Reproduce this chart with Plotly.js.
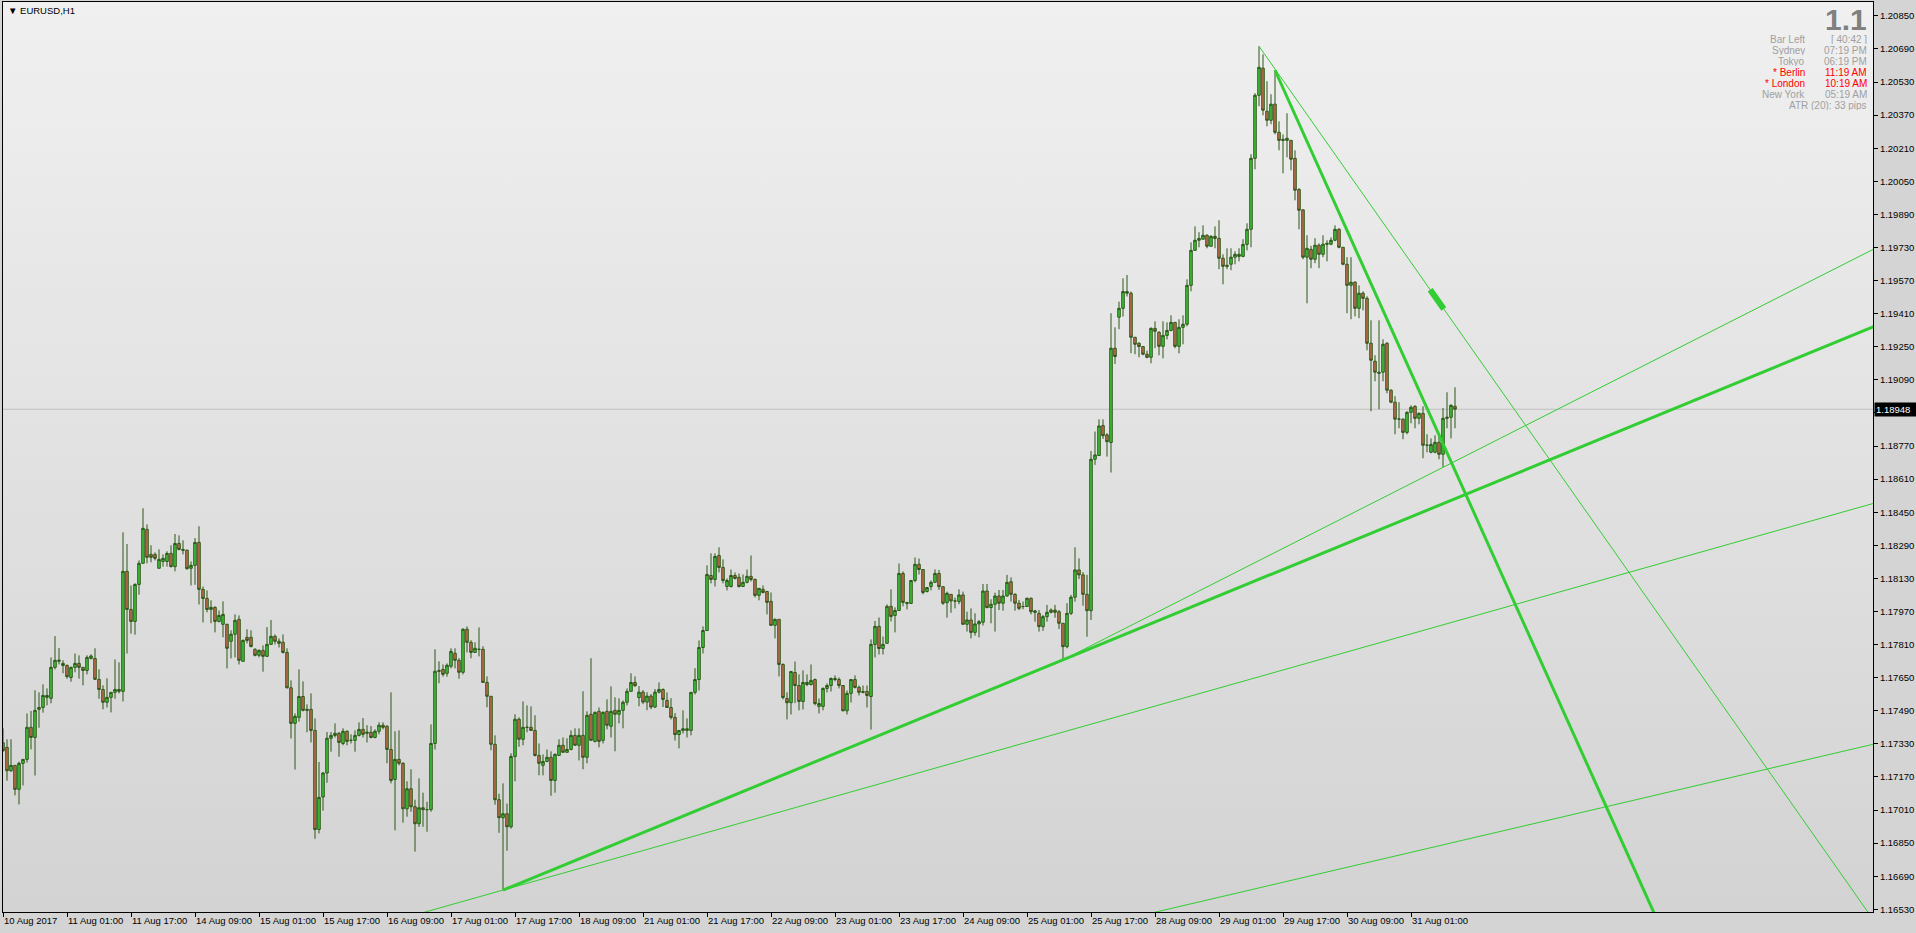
<!DOCTYPE html>
<html>
<head>
<meta charset="utf-8">
<script src="https://cdn.plot.ly/plotly-3.0.1.min.js"></script>
<style>
  html, body { margin:0; padding:0; background:#D4D4D4; }
  #chart { width:1916px; height:933px;
    background: linear-gradient(to bottom, #F0F0F0, #D3D3D3) 3px 2px / 1870px 910px no-repeat, #D4D4D4; }
</style>
</head>
<body>
<div id="chart"></div>
<script>
// ---------- DATA ----------
const symbolText = "EURUSD,H1";
const timeLabels = ["10 Aug 2017","11 Aug 01:00","11 Aug 17:00","14 Aug 09:00","15 Aug 01:00","15 Aug 17:00","16 Aug 09:00","17 Aug 01:00","17 Aug 17:00","18 Aug 09:00","21 Aug 01:00","21 Aug 17:00","22 Aug 09:00","23 Aug 01:00","23 Aug 17:00","24 Aug 09:00","25 Aug 01:00","25 Aug 17:00","28 Aug 09:00","29 Aug 01:00","29 Aug 17:00","30 Aug 09:00","31 Aug 01:00"];
const barsPerLabel = 16;
const priceTicks = [1.16530,1.16690,1.16850,1.17010,1.17170,1.17330,1.17490,1.17650,1.17810,1.17970,1.18130,1.18290,1.18450,1.18610,1.18770,1.18930,1.19090,1.19250,1.19410,1.19570,1.19730,1.19890,1.20050,1.20210,1.20370,1.20530,1.20690,1.20850];
const bidPrice = 1.18948;

const open = [
1.17335,1.17313,1.17200,1.17226,1.17110,1.17236,1.17255,1.17410,1.17361,1.17497,
1.17506,1.17564,1.17550,1.17700,1.17729,1.17719,1.17709,1.17651,1.17700,1.17719,
1.17700,1.17685,1.17743,1.17743,1.17642,1.17593,1.17531,1.17555,1.17579,1.17593,
1.17584,1.18164,1.17980,1.17922,1.18101,1.18203,1.18367,1.18246,1.18246,1.18179,
1.18212,1.18212,1.18251,1.18187,1.18299,1.18270,1.18266,1.18179,1.18193,1.18304,
1.18077,1.18033,1.17980,1.17990,1.17922,1.17908,1.17908,1.17826,1.17860,1.17932,
1.17729,1.17845,1.17845,1.17787,1.17758,1.17782,1.17753,1.17811,1.17850,1.17826,
1.17821,1.17772,1.17601,1.17429,1.17458,1.17559,1.17497,1.17497,1.17395,1.16916,
1.17073,1.17189,1.17357,1.17371,1.17381,1.17332,1.17391,1.17347,1.17347,1.17371,
1.17400,1.17381,1.17386,1.17361,1.17391,1.17420,1.17415,1.17303,1.17158,1.17255,
1.17236,1.17016,1.17113,1.17026,1.16944,1.17021,1.17012,1.17012,1.17332,1.17685,
1.17690,1.17671,1.17705,1.17768,1.17734,1.17676,1.17884,1.17821,1.17772,1.17787,
1.17787,1.17627,1.17560,1.17328,1.17060,1.16973,1.16992,1.16929,1.17269,1.17449,
1.17352,1.17410,1.17410,1.17395,1.17274,1.17226,1.17245,1.17265,1.17153,1.17274,
1.17323,1.17289,1.17303,1.17371,1.17323,1.17371,1.17265,1.17473,1.17342,1.17487,
1.17347,1.17487,1.17415,1.17492,1.17473,1.17492,1.17531,1.17584,1.17627,1.17554,
1.17580,1.17532,1.17561,1.17508,1.17580,1.17593,1.17540,1.17506,1.17458,1.17375,
1.17395,1.17403,1.17395,1.17579,1.17641,1.17796,1.17878,1.18144,1.18125,1.18241,
1.18183,1.18091,1.18091,1.18144,1.18135,1.18091,1.18111,1.18140,1.18125,1.18048,
1.18077,1.18067,1.18019,1.17903,1.17932,1.17714,1.17549,1.17529,1.17675,1.17612,
1.17535,1.17617,1.17617,1.17641,1.17511,1.17511,1.17598,1.17612,1.17646,1.17641,
1.17612,1.17490,1.17574,1.17641,1.17603,1.17579,1.17583,1.17559,1.17811,1.17898,
1.17791,1.17816,1.17995,1.17951,1.17975,1.18154,1.18014,1.18009,1.18120,1.18198,
1.18173,1.18067,1.18091,1.18111,1.18154,1.18090,1.18013,1.18053,1.18021,1.18018,
1.18050,1.17908,1.17929,1.17869,1.17910,1.17918,1.18069,1.17989,1.18005,1.18045,
1.18010,1.18045,1.18114,1.18053,1.18010,1.17994,1.17994,1.18034,1.17973,1.17961,
1.17897,1.17945,1.17966,1.17977,1.17969,1.17913,1.17800,1.17961,1.18039,1.18171,
1.18147,1.18053,1.17974,1.18706,1.18724,1.18869,1.18824,1.18787,1.19243,1.19393,
1.19436,1.19517,1.19509,1.19296,1.19267,1.19251,1.19214,1.19199,1.19339,1.19320,
1.19252,1.19305,1.19329,1.19368,1.19252,1.19344,1.19359,1.19547,1.19716,1.19765,
1.19770,1.19789,1.19736,1.19784,1.19774,1.19678,1.19644,1.19649,1.19683,1.19687,
1.19687,1.19745,1.19818,1.20161,1.20466,1.20597,1.20389,1.20345,1.20423,1.20287,
1.20253,1.20248,1.20248,1.20161,1.20011,1.19912,1.19683,1.19721,1.19673,1.19741,
1.19697,1.19750,1.19746,1.19765,1.19818,1.19731,1.19649,1.19547,1.19562,1.19436,
1.19509,1.19484,1.19267,1.19180,1.19127,1.19127,1.19267,1.19040,1.18982,1.18900,
1.18900,1.18836,1.18933,1.18962,1.18904,1.18928,1.18774,1.18740,1.18740,1.18788,
1.18730,1.18904,1.18909,1.18962];

const high = [
1.17405,1.17352,1.17352,1.17226,1.17244,1.17255,1.17477,1.17489,1.17589,1.17579,
1.17618,1.17598,1.17748,1.17851,1.17793,1.17734,1.17714,1.17703,1.17767,1.17758,
1.17700,1.17758,1.17763,1.17792,1.17690,1.17613,1.17647,1.17579,1.17738,1.17724,
1.18353,1.18296,1.18096,1.18106,1.18217,1.18469,1.18391,1.18290,1.18256,1.18270,
1.18246,1.18261,1.18290,1.18345,1.18338,1.18314,1.18270,1.18212,1.18325,1.18382,
1.18091,1.18072,1.18024,1.17995,1.17975,1.18019,1.17911,1.17879,1.17956,1.17951,
1.17835,1.17884,1.17879,1.17792,1.17787,1.17806,1.17895,1.17929,1.17859,1.17840,
1.17859,1.17792,1.17637,1.17477,1.17690,1.17632,1.17521,1.17574,1.17453,1.17242,
1.17194,1.17387,1.17387,1.17429,1.17387,1.17405,1.17395,1.17376,1.17395,1.17434,
1.17455,1.17420,1.17416,1.17400,1.17434,1.17434,1.17420,1.17579,1.17391,1.17395,
1.17241,1.17149,1.17207,1.17060,1.17163,1.17094,1.17050,1.17424,1.17787,1.17729,
1.17714,1.17719,1.17792,1.17792,1.17744,1.17889,1.17898,1.17831,1.17821,1.17893,
1.17802,1.17656,1.17560,1.17371,1.17089,1.17139,1.17041,1.17284,1.17473,1.17458,
1.17535,1.17516,1.17511,1.17468,1.17332,1.17279,1.17303,1.17294,1.17284,1.17352,
1.17361,1.17357,1.17395,1.17405,1.17405,1.17584,1.17487,1.17744,1.17487,1.17506,
1.17487,1.17545,1.17608,1.17555,1.17550,1.17540,1.17598,1.17671,1.17656,1.17609,
1.17590,1.17580,1.17571,1.17595,1.17627,1.17598,1.17579,1.17551,1.17479,1.17395,
1.17492,1.17453,1.17579,1.17696,1.17830,1.17898,1.18193,1.18251,1.18251,1.18280,
1.18222,1.18130,1.18173,1.18159,1.18154,1.18149,1.18173,1.18241,1.18130,1.18082,
1.18096,1.18067,1.18062,1.17936,1.17932,1.17719,1.17579,1.17680,1.17728,1.17666,
1.17685,1.17666,1.17714,1.17646,1.17549,1.17603,1.17622,1.17651,1.17661,1.17651,
1.17612,1.17588,1.17641,1.17661,1.17612,1.17612,1.17612,1.17835,1.17924,1.17941,
1.17849,1.18004,1.18077,1.17990,1.18202,1.18164,1.18014,1.18120,1.18231,1.18226,
1.18173,1.18086,1.18120,1.18173,1.18171,1.18090,1.18066,1.18053,1.18037,1.18077,
1.18066,1.17969,1.17985,1.17961,1.17929,1.18103,1.18103,1.18029,1.18061,1.18074,
1.18074,1.18147,1.18135,1.18058,1.18026,1.18018,1.18037,1.18037,1.17977,1.17977,
1.17953,1.18002,1.17985,1.18002,1.17977,1.17913,1.18010,1.18050,1.18280,1.18227,
1.18160,1.18147,1.18746,1.18840,1.18899,1.18899,1.18832,1.19412,1.19344,1.19468,
1.19581,1.19597,1.19517,1.19296,1.19272,1.19251,1.19231,1.19344,1.19373,1.19325,
1.19373,1.19368,1.19402,1.19368,1.19383,1.19402,1.19576,1.19755,1.19832,1.19804,
1.19837,1.19794,1.19789,1.19832,1.19862,1.19697,1.19726,1.19726,1.19712,1.19726,
1.19770,1.19847,1.20181,1.20476,1.20703,1.20664,1.20534,1.20471,1.20587,1.20340,
1.20277,1.20379,1.20248,1.20200,1.20016,1.19915,1.19789,1.19738,1.19775,1.19750,
1.19789,1.19765,1.19779,1.19837,1.19823,1.19731,1.19683,1.19683,1.19567,1.19547,
1.19518,1.19494,1.19378,1.19209,1.19378,1.19286,1.19272,1.19044,1.19011,1.18982,
1.18904,1.18938,1.18967,1.18967,1.18933,1.18962,1.18827,1.18807,1.18822,1.18832,
1.18954,1.19030,1.18972,1.19054];

const low = [
1.17292,1.17152,1.17195,1.17081,1.17037,1.17129,1.17239,1.17303,1.17177,1.17408,
1.17481,1.17516,1.17526,1.17690,1.17714,1.17671,1.17645,1.17630,1.17676,1.17645,
1.17613,1.17666,1.17738,1.17639,1.17548,1.17497,1.17506,1.17482,1.17548,1.17574,
1.17535,1.17767,1.17863,1.17858,1.18051,1.18203,1.18203,1.18208,1.18217,1.18179,
1.18187,1.18187,1.18183,1.18164,1.18266,1.18246,1.18172,1.18096,1.18099,1.18004,
1.17917,1.17966,1.17913,1.17869,1.17917,1.17845,1.17695,1.17743,1.17748,1.17714,
1.17729,1.17816,1.17796,1.17753,1.17748,1.17679,1.17751,1.17811,1.17811,1.17796,
1.17767,1.17598,1.17356,1.17206,1.17437,1.17487,1.17386,1.17337,1.16871,1.16897,
1.17007,1.17142,1.17292,1.17361,1.17268,1.17323,1.17323,1.17332,1.17292,1.17366,
1.17361,1.17337,1.17357,1.17357,1.17376,1.17400,1.17236,1.17139,1.16912,1.17226,
1.16949,1.16978,1.17002,1.16809,1.16929,1.16929,1.16905,1.17002,1.17303,1.17623,
1.17655,1.17655,1.17695,1.17695,1.17645,1.17666,1.17772,1.17744,1.17772,1.17753,
1.17627,1.17507,1.17299,1.17036,1.16900,1.16623,1.16813,1.16920,1.17149,1.17316,
1.17323,1.17386,1.17395,1.17269,1.17178,1.17178,1.17241,1.17079,1.17094,1.17274,
1.17289,1.17289,1.17299,1.17323,1.17250,1.17207,1.17236,1.17347,1.17337,1.17313,
1.17332,1.17400,1.17361,1.17294,1.17429,1.17405,1.17516,1.17584,1.17606,1.17512,
1.17522,1.17493,1.17498,1.17503,1.17574,1.17508,1.17506,1.17448,1.17346,1.17308,
1.17380,1.17361,1.17371,1.17569,1.17588,1.17767,1.17878,1.18106,1.18091,1.18159,
1.18106,1.18072,1.18086,1.18125,1.18086,1.18091,1.18106,1.18115,1.18038,1.18024,
1.18057,1.17956,1.17903,1.17840,1.17656,1.17545,1.17448,1.17472,1.17527,1.17492,
1.17496,1.17609,1.17612,1.17516,1.17477,1.17492,1.17579,1.17583,1.17632,1.17598,
1.17487,1.17472,1.17530,1.17598,1.17564,1.17574,1.17506,1.17399,1.17748,1.17762,
1.17762,1.17816,1.17922,1.17869,1.17975,1.17995,1.17980,1.18009,1.18111,1.18149,
1.18053,1.18062,1.18072,1.18111,1.18074,1.18002,1.17940,1.17964,1.17985,1.18005,
1.17905,1.17873,1.17840,1.17853,1.17845,1.17902,1.17985,1.17913,1.17873,1.17977,
1.17974,1.18042,1.18018,1.17974,1.17977,1.17981,1.17994,1.17956,1.17921,1.17873,
1.17877,1.17921,1.17961,1.17940,1.17885,1.17736,1.17792,1.17953,1.18018,1.18127,
1.17998,1.17848,1.17929,1.18679,1.18724,1.18804,1.18719,1.18642,1.19167,1.19335,
1.19396,1.19493,1.19219,1.19214,1.19199,1.19209,1.19194,1.19170,1.19243,1.19209,
1.19194,1.19286,1.19325,1.19243,1.19218,1.19262,1.19349,1.19518,1.19716,1.19731,
1.19770,1.19726,1.19736,1.19726,1.19625,1.19552,1.19625,1.19620,1.19649,1.19663,
1.19683,1.19716,1.19731,1.20108,1.20413,1.20369,1.20316,1.20326,1.20277,1.20200,
1.20089,1.20166,1.20103,1.19958,1.19818,1.19673,1.19460,1.19630,1.19654,1.19630,
1.19683,1.19663,1.19741,1.19760,1.19726,1.19644,1.19412,1.19383,1.19397,1.19388,
1.19426,1.19233,1.18938,1.19083,1.18948,1.19083,1.19025,1.18977,1.18827,1.18856,
1.18803,1.18827,1.18880,1.18856,1.18875,1.18711,1.18740,1.18735,1.18735,1.18706,
1.18667,1.18856,1.18807,1.18856];

const close = [
1.17297,1.17200,1.17226,1.17110,1.17236,1.17255,1.17410,1.17361,1.17492,1.17506,
1.17564,1.17555,1.17700,1.17734,1.17734,1.17709,1.17655,1.17700,1.17719,1.17700,
1.17685,1.17748,1.17755,1.17642,1.17593,1.17531,1.17555,1.17579,1.17593,1.17584,
1.18164,1.17980,1.17922,1.18101,1.18203,1.18372,1.18232,1.18232,1.18227,1.18222,
1.18227,1.18251,1.18187,1.18299,1.18270,1.18266,1.18177,1.18193,1.18304,1.18077,
1.18033,1.17980,1.17990,1.17922,1.17951,1.17956,1.17792,1.17860,1.17927,1.17734,
1.17830,1.17830,1.17801,1.17758,1.17782,1.17753,1.17811,1.17850,1.17826,1.17816,
1.17772,1.17601,1.17429,1.17463,1.17559,1.17492,1.17492,1.17395,1.16916,1.17071,
1.17189,1.17357,1.17371,1.17381,1.17337,1.17391,1.17342,1.17347,1.17371,1.17400,
1.17376,1.17386,1.17361,1.17391,1.17420,1.17410,1.17303,1.17153,1.17255,1.17236,
1.17016,1.17113,1.17026,1.16944,1.17021,1.17012,1.17012,1.17332,1.17681,1.17681,
1.17666,1.17710,1.17777,1.17734,1.17676,1.17884,1.17821,1.17772,1.17792,1.17787,
1.17627,1.17560,1.17328,1.17060,1.16973,1.16992,1.16929,1.17269,1.17449,1.17352,
1.17410,1.17410,1.17395,1.17274,1.17236,1.17245,1.17265,1.17153,1.17279,1.17323,
1.17289,1.17303,1.17371,1.17323,1.17371,1.17265,1.17468,1.17347,1.17482,1.17342,
1.17482,1.17420,1.17487,1.17473,1.17492,1.17531,1.17584,1.17627,1.17611,1.17580,
1.17532,1.17561,1.17508,1.17580,1.17593,1.17545,1.17506,1.17458,1.17375,1.17395,
1.17403,1.17395,1.17579,1.17641,1.17796,1.17878,1.18149,1.18125,1.18236,1.18183,
1.18120,1.18120,1.18144,1.18130,1.18091,1.18111,1.18140,1.18125,1.18048,1.18082,
1.18062,1.18014,1.17903,1.17932,1.17714,1.17554,1.17529,1.17680,1.17612,1.17535,
1.17627,1.17627,1.17637,1.17525,1.17525,1.17598,1.17612,1.17646,1.17641,1.17612,
1.17490,1.17574,1.17641,1.17603,1.17579,1.17583,1.17564,1.17811,1.17898,1.17791,
1.17811,1.17995,1.17946,1.17975,1.18154,1.18014,1.18009,1.18120,1.18198,1.18173,
1.18062,1.18086,1.18111,1.18154,1.18090,1.18010,1.18058,1.18021,1.18021,1.18050,
1.17908,1.17929,1.17869,1.17910,1.17921,1.18069,1.17989,1.18005,1.18045,1.18010,
1.18045,1.18111,1.18053,1.18010,1.17985,1.17994,1.18034,1.17969,1.17966,1.17897,
1.17945,1.17966,1.17977,1.17966,1.17913,1.17800,1.17961,1.18039,1.18171,1.18147,
1.18053,1.17974,1.18706,1.18727,1.18867,1.18820,1.18791,1.19243,1.19203,1.19436,
1.19517,1.19509,1.19296,1.19262,1.19251,1.19214,1.19199,1.19339,1.19325,1.19252,
1.19305,1.19329,1.19368,1.19252,1.19344,1.19359,1.19547,1.19716,1.19765,1.19774,
1.19789,1.19736,1.19784,1.19774,1.19678,1.19639,1.19639,1.19683,1.19697,1.19697,
1.19745,1.19818,1.20161,1.20466,1.20601,1.20394,1.20345,1.20423,1.20287,1.20248,
1.20248,1.20258,1.20157,1.20007,1.19910,1.19683,1.19726,1.19673,1.19741,1.19697,
1.19746,1.19746,1.19765,1.19818,1.19731,1.19649,1.19547,1.19562,1.19436,1.19509,
1.19484,1.19267,1.19185,1.19127,1.19122,1.19262,1.19040,1.18982,1.18900,1.18900,
1.18836,1.18933,1.18957,1.18904,1.18928,1.18774,1.18774,1.18778,1.18788,1.18730,
1.18904,1.18909,1.18967,1.18948];

// trend lines: anchor points (bar index, price)
const tlDownThickX = [318, 358],   tlDownThickY = [1.20587, 1.18867];   // ray to the right
const tlDownThinX  = [314, 360],   tlDownThinY  = [1.20703, 1.19438];   // ray to the right
const tlDownMarkX  = [356.8, 360.2];                                      // short thick mark on thin down line
const tlUpThickX   = [125, 265],   tlUpThickY   = [1.16623, 1.17736];   // ray to the right
const tlUpThinX    = [125, 265],   tlUpThinY    = [1.16623, 1.17387];   // line, both ways
const tlUpThin2X   = [265, 360],   tlUpThin2Y   = [1.17736, 1.18667];   // ray to the right
const tlLowThinX   = [290, 460],   tlLowThinY   = [1.16525, 1.17294];   // line, both ways

const infoLabels = ["Bar Left","Sydney","Tokyo","* Berlin","* London","New York"];
const infoValues = ["[ 40:42 ]","07:19 PM","06:19 PM","11:19 AM","10:19 AM","05:19 AM"];
const infoHighlight = [false,false,false,true,true,false];
const atrText = "ATR (20): 33 pips";
const bigText = "1.1";

// ---------- BUILD ----------
const idx = open.map((_, i) => i);
const XMAX = 467.5;
const GREEN = '#32CD32';

function lineThrough(xs, ys, xFrom, xTo) {
  const s = (ys[1] - ys[0]) / (xs[1] - xs[0]);
  return { x: [xFrom, xTo], y: [ys[0] + s * (xFrom - xs[0]), ys[0] + s * (xTo - xs[0])] };
}
function lineTrace(seg, width) {
  return { type: 'scatter', mode: 'lines', x: seg.x, y: seg.y,
           line: { color: GREEN, width: width }, hoverinfo: 'skip', showlegend: false, cliponaxis: true };
}

const traces = [
  { type: 'candlestick', x: idx, open: open, high: high, low: low, close: close,
    increasing: { line: { color: '#2B5716', width: 1 }, fillcolor: '#3BC83B' },
    decreasing: { line: { color: '#2B5716', width: 1 }, fillcolor: '#CD6A4F' },
    whiskerwidth: 0, hoverinfo: 'skip', showlegend: false },
  lineTrace(lineThrough(tlLowThinX, tlLowThinY, -20, XMAX + 20), 1),
  lineTrace(lineThrough(tlUpThinX, tlUpThinY, -20, XMAX + 20), 1),
  lineTrace(lineThrough(tlUpThin2X, tlUpThin2Y, tlUpThin2X[0], XMAX + 20), 1),
  lineTrace(lineThrough(tlDownThinX, tlDownThinY, tlDownThinX[0], XMAX + 20), 1),
  lineTrace(lineThrough(tlUpThickX, tlUpThickY, tlUpThickX[0], XMAX + 20), 3),
  lineTrace(lineThrough(tlDownThickX, tlDownThickY, tlDownThickX[0], XMAX + 20), 3),
  lineTrace(lineThrough(tlDownThinX, tlDownThinY, tlDownMarkX[0], tlDownMarkX[1]), 6)
];

// pixel -> paper helpers for the text overlays
const PL = 3, PT = 2, PW = 1870, PH = 910;
const px = x => (x - PL) / PW;
const py = y => (PT + PH - y) / PH;
const FONT = 'Liberation Sans, Arial, sans-serif';

const annotations = [];
annotations.push({ xref: 'paper', yref: 'paper', x: px(6), y: py(11), xanchor: 'left', yanchor: 'middle',
  text: '▼ ' + symbolText, showarrow: false, font: { family: FONT, size: 9.5, color: '#000' } });
annotations.push({ xref: 'paper', yref: 'paper', x: px(1868), y: py(19), xanchor: 'right', yanchor: 'middle',
  height: 22, valign: 'middle', borderpad: 0,
  text: '<b>' + bigText + '</b>', showarrow: false, font: { family: FONT, size: 30, color: '#808080' } });
infoLabels.forEach((lab, k) => {
  const col = infoHighlight[k] ? '#FF0000' : '#A0A0A0';
  const yy = 39 + k * 11;
  annotations.push({ xref: 'paper', yref: 'paper', x: px(1806), y: py(yy), xanchor: 'right', yanchor: 'middle',
    height: 10, borderpad: 0, text: lab, showarrow: false, font: { family: FONT, size: 10, color: col } });
  annotations.push({ xref: 'paper', yref: 'paper', x: px(1868), y: py(yy), xanchor: 'right', yanchor: 'middle',
    height: 10, borderpad: 0, text: infoValues[k], showarrow: false, font: { family: FONT, size: 10, color: col } });
});
annotations.push({ xref: 'paper', yref: 'paper', x: px(1868), y: py(105), xanchor: 'right', yanchor: 'middle',
  height: 10, borderpad: 0, text: atrText, showarrow: false, font: { family: FONT, size: 10, color: '#A0A0A0' } });
annotations.push({ xref: 'paper', yref: 'y', x: px(1874), y: bidPrice, xanchor: 'left', yanchor: 'middle',
  text: bidPrice.toFixed(5), showarrow: false, bgcolor: '#000000', borderpad: 1, width: 40, align: 'left',
  font: { family: FONT, size: 9.5, color: '#FFFFFF' } });

// price tick hidden behind the bid label keeps its tick mark only
const priceTickText = priceTicks.map(v => Math.abs(v - bidPrice) < 0.0004 ? '' : v.toFixed(5));

const layout = {
  width: 1916, height: 933,
  margin: { l: PL, r: 1916 - PL - PW, t: PT, b: 933 - PT - PH, pad: 0 },
  paper_bgcolor: 'rgba(0,0,0,0)', plot_bgcolor: 'rgba(0,0,0,0)',
  showlegend: false, dragmode: false, hovermode: false,
  boxgap: 0.1,
  xaxis: {
    type: 'linear', range: [0, XMAX], fixedrange: true,
    rangeslider: { visible: false },
    showgrid: false, zeroline: false,
    showline: true, mirror: true, linecolor: '#000', linewidth: 1,
    ticks: 'outside', ticklen: 4, tickwidth: 1, tickcolor: '#000',
    tickvals: timeLabels.map((_, k) => k * barsPerLabel), ticktext: timeLabels,
    ticklabelposition: 'outside right', tickangle: 0, ticklabeloverflow: 'allow',
    tickfont: { family: FONT, size: 9.5, color: '#000' }
  },
  yaxis: {
    side: 'right', range: [1.16517, 1.20917], fixedrange: true,
    showgrid: false, zeroline: false,
    showline: true, mirror: true, linecolor: '#000', linewidth: 1,
    ticks: 'outside', ticklen: 4, tickwidth: 1, tickcolor: '#000',
    tickvals: priceTicks, ticktext: priceTickText,
    tickfont: { family: FONT, size: 9.5, color: '#000' }
  },
  shapes: [
    { type: 'line', xref: 'paper', yref: 'y', x0: 0, x1: 1, y0: bidPrice, y1: bidPrice,
      line: { color: '#C0C0C0', width: 1 }, layer: 'below' }
  ],
  annotations: annotations
};

Plotly.newPlot('chart', traces, layout, { staticPlot: true, displayModeBar: false });
</script>
</body>
</html>
